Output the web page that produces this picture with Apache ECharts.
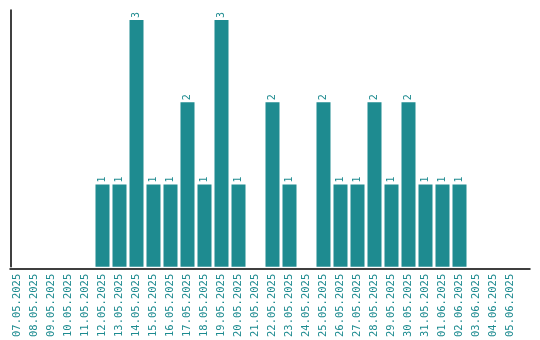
<!DOCTYPE html>
<html><head><meta charset="utf-8">
<script src="https://cdn.jsdelivr.net/npm/echarts@6/dist/echarts.min.js"></script>
<style>html,body{margin:0;padding:0;background:#fff}#c{width:540px;height:340px}</style>
</head><body><div id="c"></div>
<script>
const categories = ["07.05.2025","08.05.2025","09.05.2025","10.05.2025","11.05.2025","12.05.2025","13.05.2025","14.05.2025","15.05.2025","16.05.2025","17.05.2025","18.05.2025","19.05.2025","20.05.2025","21.05.2025","22.05.2025","23.05.2025","24.05.2025","25.05.2025","26.05.2025","27.05.2025","28.05.2025","29.05.2025","30.05.2025","31.05.2025","01.06.2025","02.06.2025","03.06.2025","04.06.2025","05.06.2025"];
const counts = [0,0,0,0,0,1,1,3,1,1,2,1,3,1,0,2,1,0,2,1,1,2,1,2,1,1,1,0,0,0];
const teal = '#1e8b90';
const chart = echarts.init(document.getElementById('c'), null, {renderer:'canvas'});
chart.setOption({
  animation: false,
  grid: [
    {left: 9, top: 10, width: 510, bottom: 70, containLabel: false},
    {left: 10, top: 10, width: 520, bottom: 70, containLabel: false}
  ],
  xAxis: [{
    gridIndex: 0, type: 'category', data: categories,
    axisLine: {show: false},
    axisTick: {show: false},
    axisLabel: {rotate: 90, color: teal, fontFamily: 'DejaVu Sans Mono', fontSize: 10.5, margin: 7, interval: 0}
  }, {
    gridIndex: 1, type: 'value', min: 0, max: 1, offset: -1,
    axisLine: {show: true, lineStyle: {color: '#000', width: 1.5}},
    axisTick: {show: false}, axisLabel: {show: false}, splitLine: {show: false}
  }],
  yAxis: [{
    gridIndex: 0, type: 'value', min: 0, max: 3.12, offset: -1.5,
    axisLine: {show: true, lineStyle: {color: '#000', width: 1.5}},
    axisTick: {show: false}, axisLabel: {show: false}, splitLine: {show: false}
  }, {
    gridIndex: 1, type: 'value', min: 0, max: 1, show: false
  }],
  series: [{
    type: 'bar', xAxisIndex: 0, yAxisIndex: 0, data: counts.map(v => v === 0 ? null : v),
    barCategoryGap: '17.6%',
    itemStyle: {color: teal},
    label: {show: true, position: 'top', rotate: 90, align: 'left', verticalAlign: 'middle', distance: 2,
      color: teal, fontFamily: 'DejaVu Sans Mono', fontSize: 10}
  }]
});
</script></body></html>
